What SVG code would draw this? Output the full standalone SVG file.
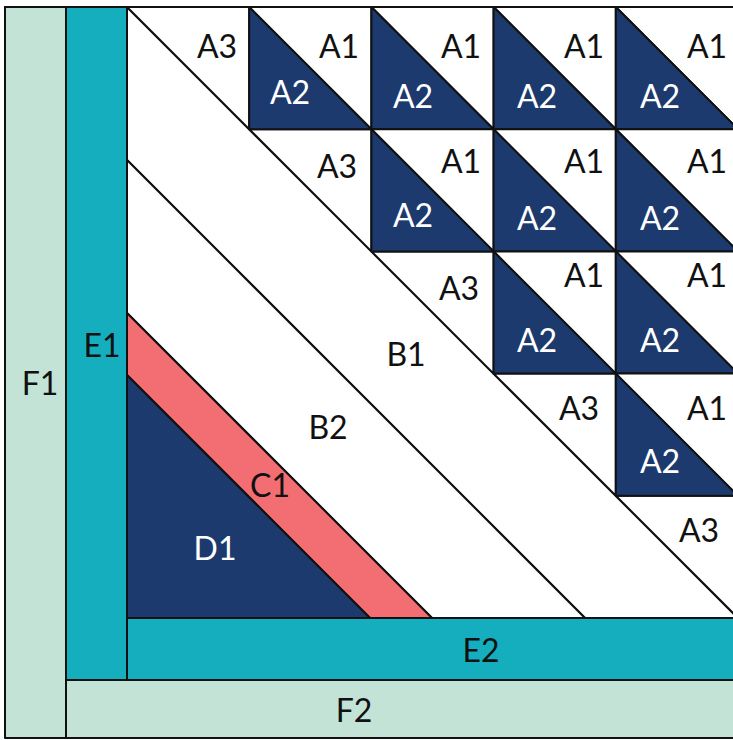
<svg xmlns="http://www.w3.org/2000/svg" width="733" height="740" viewBox="0 0 733 740">
<style>
.pc{stroke:#111;stroke-width:2;stroke-linejoin:round}
.mint{fill:#C2E3D5}
.teal{fill:#14AEBE}
.navy{fill:#1C3A6E}
.salmon{fill:#F26E72}
.white{fill:#FFFFFF}
text{font-family:Lato,"Open Sans","DejaVu Sans",sans-serif;font-size:32px;text-anchor:middle;fill:#111}
text.w{fill:#FFFFFF}
.ln{stroke:#111;stroke-width:2;fill:none;stroke-linecap:round}
</style>
<rect x="0" y="0" width="733" height="740" fill="#FFFFFF"/>
<g id="F1"><rect class="pc mint" x="5" y="7" width="61" height="731"/><text x="40" y="395">F1</text></g>
<g id="F2"><rect class="pc mint" x="66" y="680" width="680" height="58"/><text x="354" y="722">F2</text></g>
<g id="E1"><rect class="pc teal" x="66" y="7" width="61" height="673"/><text x="102" y="357">E1</text></g>
<g id="E2"><rect class="pc teal" x="127" y="618" width="620" height="62"/><text x="481" y="662">E2</text></g>
<g id="B1"><polygon class="pc white" points="127,7 738,618 585,618 127,160"/><text x="406" y="366">B1</text></g>
<g id="B2"><polygon class="pc white" points="127,160 585,618 432,618 127,313"/><text x="328" y="439">B2</text></g>
<g id="C1"><polygon class="pc salmon" points="127,313 432,618 370,618 127,375"/><text x="270" y="497">C1</text></g>
<g id="D1"><polygon class="pc navy" points="127,375 370,618 127,618"/><text class="w" x="215" y="560">D1</text></g>
<g id="A3-r0"><polygon class="pc white" points="127,7 249.2,7 249.2,129.2"/><text x="217" y="58">A3</text></g>
<g id="A3-r1"><polygon class="pc white" points="249.2,129.2 371.4,129.2 371.4,251.4"/><text x="337" y="178">A3</text></g>
<g id="A3-r2"><polygon class="pc white" points="371.4,251.4 493.6,251.4 493.6,373.6"/><text x="459" y="300">A3</text></g>
<g id="A3-r3"><polygon class="pc white" points="493.6,373.6 615.8,373.6 615.8,495.8"/><text x="579" y="420">A3</text></g>
<g id="A3-r4"><polygon class="pc white" points="615.8,495.8 738,495.8 738,618"/><text x="699" y="542">A3</text></g>
<g id="A1-r0c1"><polygon class="pc white" points="249.2,7 371.4,7 371.4,129.2"/><text x="339" y="58">A1</text></g>
<g id="A2-r0c1"><polygon class="pc navy" points="249.2,7 249.2,129.2 371.4,129.2"/><text class="w" x="290" y="104">A2</text></g>
<g id="A1-r0c2"><polygon class="pc white" points="371.4,7 493.6,7 493.6,129.2"/><text x="461" y="58">A1</text></g>
<g id="A2-r0c2"><polygon class="pc navy" points="371.4,7 371.4,129.2 493.6,129.2"/><text class="w" x="413" y="108">A2</text></g>
<g id="A1-r0c3"><polygon class="pc white" points="493.6,7 615.8,7 615.8,129.2"/><text x="584" y="58">A1</text></g>
<g id="A2-r0c3"><polygon class="pc navy" points="493.6,7 493.6,129.2 615.8,129.2"/><text class="w" x="537" y="108">A2</text></g>
<g id="A1-r0c4"><polygon class="pc white" points="615.8,7 738,7 738,129.2"/><text x="707" y="58">A1</text></g>
<g id="A2-r0c4"><polygon class="pc navy" points="615.8,7 615.8,129.2 738,129.2"/><text class="w" x="660" y="108">A2</text></g>
<g id="A1-r1c2"><polygon class="pc white" points="371.4,129.2 493.6,129.2 493.6,251.4"/><text x="461" y="173">A1</text></g>
<g id="A2-r1c2"><polygon class="pc navy" points="371.4,129.2 371.4,251.4 493.6,251.4"/><text class="w" x="413" y="227">A2</text></g>
<g id="A1-r1c3"><polygon class="pc white" points="493.6,129.2 615.8,129.2 615.8,251.4"/><text x="584" y="173">A1</text></g>
<g id="A2-r1c3"><polygon class="pc navy" points="493.6,129.2 493.6,251.4 615.8,251.4"/><text class="w" x="537" y="230">A2</text></g>
<g id="A1-r1c4"><polygon class="pc white" points="615.8,129.2 738,129.2 738,251.4"/><text x="707" y="173">A1</text></g>
<g id="A2-r1c4"><polygon class="pc navy" points="615.8,129.2 615.8,251.4 738,251.4"/><text class="w" x="660" y="230">A2</text></g>
<g id="A1-r2c3"><polygon class="pc white" points="493.6,251.4 615.8,251.4 615.8,373.6"/><text x="584" y="287">A1</text></g>
<g id="A2-r2c3"><polygon class="pc navy" points="493.6,251.4 493.6,373.6 615.8,373.6"/><text class="w" x="537" y="352">A2</text></g>
<g id="A1-r2c4"><polygon class="pc white" points="615.8,251.4 738,251.4 738,373.6"/><text x="707" y="287">A1</text></g>
<g id="A2-r2c4"><polygon class="pc navy" points="615.8,251.4 615.8,373.6 738,373.6"/><text class="w" x="660" y="352">A2</text></g>
<g id="A1-r3c4"><polygon class="pc white" points="615.8,373.6 738,373.6 738,495.8"/><text x="707" y="420">A1</text></g>
<g id="A2-r3c4"><polygon class="pc navy" points="615.8,373.6 615.8,495.8 738,495.8"/><text class="w" x="660" y="473">A2</text></g>
<g id="edges"><line class="ln" x1="5" y1="7" x2="740" y2="7"/></g>
</svg>
